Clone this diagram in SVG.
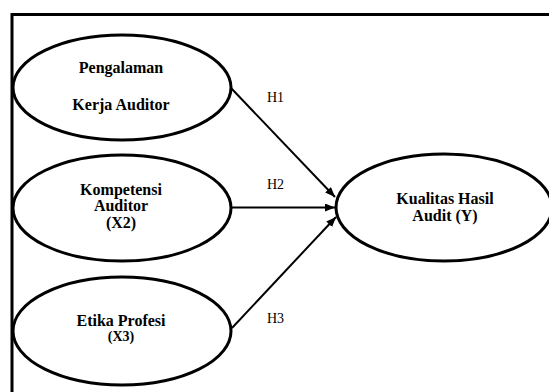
<svg xmlns="http://www.w3.org/2000/svg" width="549" height="392" viewBox="0 0 549 392">
<style>
.node ellipse{fill:#fff;stroke:#000;stroke-width:3}
.t{font-family:"Liberation Serif","Times New Roman",serif;font-size:16px;font-weight:bold;text-anchor:middle;fill:#000}
.s{font-size:14px}
.h{font-family:"Liberation Serif","Times New Roman",serif;font-size:14px;fill:#000}
.c line{stroke:#000;stroke-width:2;marker-end:url(#ah)}
</style>
<defs>
<marker id="ah" viewBox="0 0 10 8" refX="10" refY="4" markerWidth="10" markerHeight="8" markerUnits="userSpaceOnUse" orient="auto">
<path d="M0,0 L10,4 L0,8 z" fill="#000"/>
</marker>
</defs>
<rect x="0" y="0" width="549" height="392" fill="#fff"/>
<rect id="frame" x="12" y="14.5" width="600" height="450" fill="none" stroke="#000" stroke-width="3"/>
<g class="c" id="connectors">
<line x1="231" y1="88" x2="335" y2="197"/>
<line x1="231" y1="207.5" x2="335" y2="207.5"/>
<line x1="232" y1="328" x2="336" y2="217"/>
</g>
<g id="labels">
<text class="h" x="267" y="102">H1</text>
<text class="h" x="267" y="189">H2</text>
<text class="h" x="267" y="323">H3</text>
</g>
<g class="node" id="x1">
<ellipse cx="122" cy="87.5" rx="109" ry="52.5"/>
<text class="t" x="121" y="73">Pengalaman</text>
<text class="t" x="121" y="110">Kerja Auditor</text>
</g>
<g class="node" id="x2">
<ellipse cx="122" cy="208" rx="109" ry="53"/>
<text class="t" x="121" y="195">Kompetensi</text>
<text class="t" x="121" y="211">Auditor</text>
<text class="t" x="121" y="228">(X2)</text>
</g>
<g class="node" id="x3">
<ellipse cx="122" cy="331" rx="109" ry="54"/>
<text class="t" x="121" y="326">Etika Profesi</text>
<text class="t s" x="121" y="341">(X3)</text>
</g>
<g class="node" id="y">
<ellipse cx="444" cy="207.5" rx="108" ry="53.5"/>
<text class="t" x="445" y="204">Kualitas Hasil</text>
<text class="t" x="445" y="221">Audit (Y)</text>
</g>
</svg>
